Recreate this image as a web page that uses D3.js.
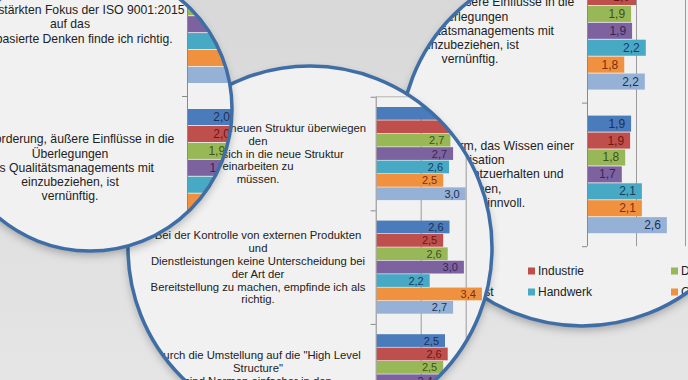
<!DOCTYPE html>
<html><head><meta charset="utf-8">
<script src="https://cdn.jsdelivr.net/npm/d3@7"></script>
<style>html,body{margin:0;padding:0;background:#e0e0e0;overflow:hidden}svg{display:block}</style>
</head><body><svg id="c" width="688" height="380"></svg>
<script>
// ---------- DATA ----------
const seriesNames = ["Gesamt", "Industrie", "Dienstleistung", "Öffentlicher Dienst", "Handwerk", "Gesundheitswesen", "Sonstige"];
const seriesColors = ["#4a7cbb", "#be4f4c", "#98b858", "#7d62a0", "#47a9c3", "#f0913f", "#95b1d6"];
const labelColors = ["#1b2f57", "#6e1614", "#3c5317", "#362654", "#173c5e", "#7a300a", "#1b2f57"];

const categoryLabels = [
  ["Den verstärkten Fokus der ISO 9001:2015", "auf das", "risikobasierte Denken finde ich richtig."],
  ["Die Forderung, äußere Einflüsse in die", "Überlegungen", "des Qualitätsmanagements mit", "einzubeziehen, ist", "vernünftig."],
  ["Die Regel der Norm, das Wissen einer", "Organisation", "zu sichern, aufrechtzuerhalten und", "zu machen,", "halte ich für sinnvoll."],
  ["Die Vorteile der neuen Struktur überwiegen", "den", "Aufwand, sich in die neue Struktur", "einarbeiten zu", "müssen."],
  ["Bei der Kontrolle von externen Produkten", "und", "Dienstleistungen keine Unterscheidung bei", "der Art der", "Bereitstellung zu machen, empfinde ich als", "richtig."],
  ["Durch die Umstellung auf die \"High Level", "Structure\"", "sind Normen einfacher in den", "Unternehmen", "umzusetzen."]
];

// one value per category (same order as categoryLabels)
const gesamt         = [2.3, 2.0, 1.9, 2.9, 2.64, 2.54];
const industrie      = [2.4, 2.0, 1.88, 3.2, 2.5, 2.6];
const dienstleistung = [2.2, 1.9, 1.78, 2.66, 2.6, 2.5];
const oeffentlich    = [2.1, 1.92, 1.71, 2.72, 2.96, 2.4];
const handwerk       = [2.5, 2.2, 2.12, 2.63, 2.2, 2.3];
const gesundheit     = [2.3, 1.76, 2.12, 2.5, 3.36, 2.8];
const sonstige       = [2.5, 2.18, 2.63, 3.0, 2.72, 2.6];
const seriesValues = [gesamt, industrie, dienstleistung, oeffentlich, handwerk, gesundheit, sonstige];

const xDomain = [1, 4];
const gridValues = [2, 3, 4];

// ---------- LAYOUT ----------
const W = 688, H = 380;
const FONT = "'Liberation Sans', Arial, sans-serif";
const fmt = v => d3.format(".1f")(v).replace(".", ",");

const chartAC = { cats: [0, 1, 2], x0: 187, unit: 49, top: -47.6, period: 143.6, inset: 13,
  labelCx: 70, lineH: 14.3, catFont: 12.2, valFont: 12, valPad: 6, topLine: false,
  legend: { x: -15, y: 408, colW: 143, rowH: 21, cols: 3, font: 12 } };
const chartB = { cats: [3, 4, 5], x0: 375.7, unit: 45, top: 96.75, period: 113.6, inset: 10.25,
  labelCx: 258, lineH: 12.9, catFont: 11.3, valFont: 11, valPad: 6, topLine: true, legend: null };

const lenses = [
  { id: "lensC", cx: 582, cy: 144, r: 182, chart: chartAC, dx: 400, dy: -137 },
  { id: "lensB", cx: 310, cy: 248, r: 182, chart: chartB, dx: 0, dy: 0 },
  { id: "lensA", cx: 90, cy: 109, r: 142, chart: chartAC, dx: 0, dy: 0 }
];

const svg = d3.select("#c");
const defs = svg.append("defs");
const bg = defs.append("linearGradient").attr("id", "bg").attr("x1", 0).attr("y1", 0).attr("x2", 0).attr("y2", 1);
bg.append("stop").attr("offset", "0%").attr("stop-color", "#d8d8d8");
bg.append("stop").attr("offset", "100%").attr("stop-color", "#e5e5e5");
svg.append("rect").attr("width", W).attr("height", H).attr("fill", "url(#bg)");

const f = defs.append("filter").attr("id", "sh").attr("x", "-20%").attr("y", "-20%").attr("width", "140%").attr("height", "140%");
f.append("feGaussianBlur").attr("in", "SourceAlpha").attr("stdDeviation", 5);
f.append("feOffset").attr("dx", 0).attr("dy", 4).attr("result", "off");
f.append("feComponentTransfer").append("feFuncA").attr("type", "linear").attr("slope", 0.3);
const mg = f.append("feMerge");
mg.append("feMergeNode");
mg.append("feMergeNode").attr("in", "SourceGraphic");

function drawChart(g, cfg) {
  const cats = cfg.cats;
  const y = d3.scaleBand().domain(cats).range([cfg.top, cfg.top + cfg.period * cats.length]);
  const ys = d3.scaleBand().domain(d3.range(seriesNames.length)).range([cfg.inset, cfg.period - cfg.inset]).paddingInner(0.05);
  const x = d3.scaleLinear().domain(xDomain).range([cfg.x0, cfg.x0 + cfg.unit * (xDomain[1] - xDomain[0])]);
  const plotTop = y.range()[0], plotBottom = y.range()[1];

  if (cfg.topLine) {
    g.append("line").attr("x1", x(xDomain[0])).attr("x2", x(xDomain[1])).attr("y1", plotTop).attr("y2", plotTop)
      .attr("stroke", "#b5b5b5").attr("stroke-width", 1);
  }
  g.selectAll(".grid").data(gridValues).join("line").attr("class", "grid")
    .attr("x1", d => x(d) + 0.5).attr("x2", d => x(d) + 0.5).attr("y1", plotTop).attr("y2", plotBottom)
    .attr("stroke", "#9a9a9a").attr("stroke-width", 1);
  g.append("line").attr("x1", x(xDomain[0]) + 0.5).attr("x2", x(xDomain[0]) + 0.5)
    .attr("y1", plotTop).attr("y2", plotBottom).attr("stroke", "#8a8a8a").attr("stroke-width", 1);
  const bounds = cats.map(c => y(c)).concat([plotBottom]);
  g.selectAll(".tk").data(bounds).join("line").attr("class", "tk")
    .attr("x1", x(xDomain[0]) - 5).attr("x2", x(xDomain[0])).attr("y1", d => d + 0.5).attr("y2", d => d + 0.5)
    .attr("stroke", "#8a8a8a").attr("stroke-width", 1);

  const recs = [];
  cats.forEach(c => seriesValues.forEach((vals, j) => recs.push({ c, j, v: vals[c] })));

  g.selectAll(".bar").data(recs).join("rect").attr("class", "bar")
    .attr("x", x(xDomain[0]) + 1).attr("y", d => y(d.c) + ys(d.j))
    .attr("width", d => x(d.v) - x(xDomain[0]) - 1).attr("height", ys.bandwidth())
    .attr("fill", d => seriesColors[d.j]);

  g.selectAll(".val").data(recs).join("text").attr("class", "val")
    .attr("x", d => x(d.v) - cfg.valPad).attr("y", d => y(d.c) + ys(d.j) + ys.bandwidth() / 2)
    .attr("text-anchor", "end").attr("dominant-baseline", "central")
    .attr("font-family", FONT).attr("font-size", cfg.valFont)
    .attr("fill", d => labelColors[d.j]).text(d => fmt(d.v));

  cats.forEach(c => {
    const lines = categoryLabels[c];
    const cy = y(c) + y.bandwidth() / 2;
    const t = g.append("text").attr("font-family", FONT).attr("font-size", cfg.catFont)
      .attr("fill", "#222").attr("text-anchor", "middle");
    lines.forEach((ln, i) => {
      t.append("tspan").attr("x", cfg.labelCx)
        .attr("y", cy + (i - (lines.length - 1) / 2) * cfg.lineH)
        .attr("dominant-baseline", "central").text(ln);
    });
  });

  if (cfg.legend) {
    const L = cfg.legend;
    const items = g.selectAll(".lg").data(seriesNames).join("g").attr("class", "lg")
      .attr("transform", (d, i) => `translate(${L.x + (i % L.cols) * L.colW},${L.y + Math.floor(i / L.cols) * L.rowH})`);
    items.append("rect").attr("x", 0).attr("y", -3.5).attr("width", 7).attr("height", 7)
      .attr("fill", (d, i) => seriesColors[i]);
    items.append("text").attr("x", 10).attr("y", 0).attr("dominant-baseline", "central")
      .attr("font-family", FONT).attr("font-size", L.font).attr("fill", "#222").text(d => d);
  }
}

lenses.forEach(L => {
  defs.append("clipPath").attr("id", "clip-" + L.id)
    .append("circle").attr("cx", L.cx).attr("cy", L.cy).attr("r", L.r);
  const lg = svg.append("g");
  lg.append("circle").attr("cx", L.cx).attr("cy", L.cy).attr("r", L.r)
    .attr("fill", "#f1f1f1").attr("filter", "url(#sh)");
  const clipG = lg.append("g").attr("clip-path", `url(#clip-${L.id})`);
  const inner = clipG.append("g").attr("transform", `translate(${L.dx},${L.dy})`);
  drawChart(inner, L.chart);
  lg.append("circle").attr("cx", L.cx).attr("cy", L.cy).attr("r", L.r)
    .attr("fill", "none").attr("stroke", "#3f6ea6").attr("stroke-width", 3.5);
});
</script>
</body></html>
